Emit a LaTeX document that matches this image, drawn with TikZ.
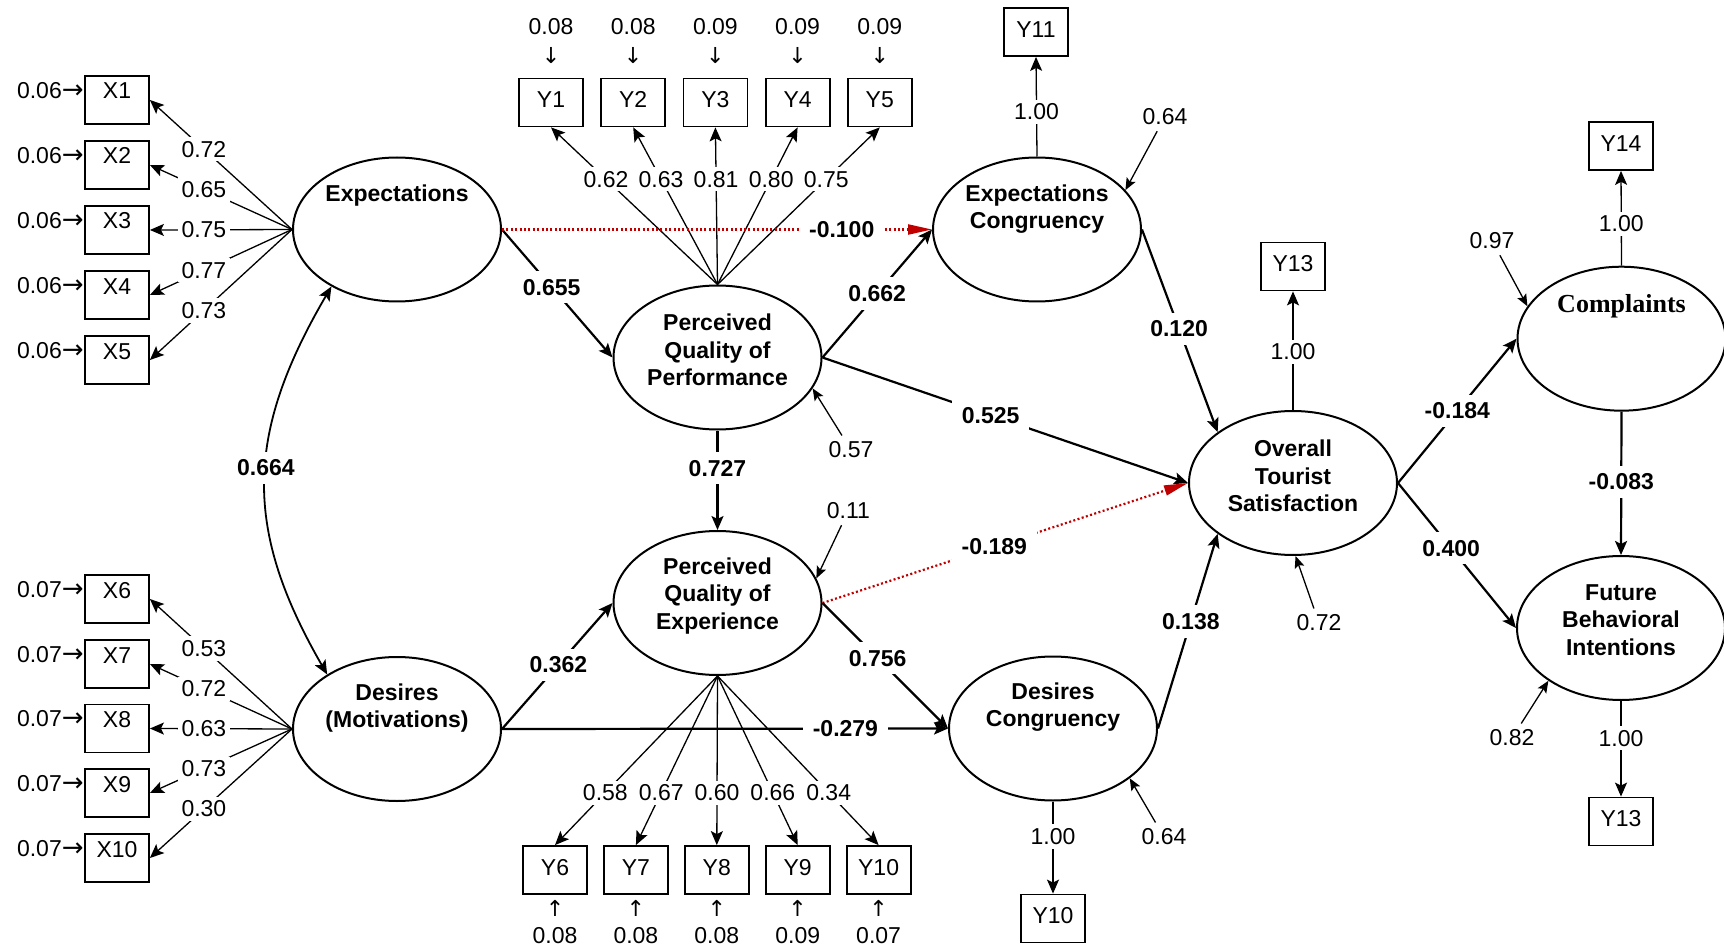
\documentclass[tikz,border=0pt]{standalone}
\usepackage{fontspec}
\setmainfont{Liberation Sans}
\newfontfamily\serifbf{Liberation Serif}
\newfontfamily\arrowfont{DejaVu Sans}
\usetikzlibrary{arrows.meta, shapes.geometric}
\definecolor{negred}{RGB}{192,0,0}
\newcommand\numfont{\fontsize{11.5}{13.75}\selectfont}
\newcommand\errright{{\arrowfont\fontsize{13}{13}\selectfont →}}
\newcommand\errdown{{\arrowfont\fontsize{11}{13}\selectfont ↓}}
\newcommand\errup{{\arrowfont\fontsize{11}{13}\selectfont ↑}}
\tikzset{
  >={Stealth[length=7pt,width=6pt,inset=1.5pt]},
  latent/.style={draw, ellipse, line width=1pt, minimum width=104pt, minimum height=72pt, inner sep=0pt},
  ltext/.style={font=\numfont\bfseries, align=center},
  manifest/.style={draw, line width=0.9pt, minimum width=32pt, minimum height=24pt, inner sep=0pt,
    font=\numfont, text height=8.5pt, text depth=3.3pt},
  xbox/.style={manifest, text depth=9.5pt},
  num/.style={font=\numfont, fill=white, inner sep=2pt},
  resid/.style={font=\numfont, inner sep=3pt},
  coef/.style={font=\numfont\bfseries, text=black, fill=white, inner xsep=5pt, inner ysep=4pt},
  load/.style={->, line width=0.65pt},
  err/.style={-{Stealth[length=6pt,width=5pt,inset=1.2pt]}, line width=0.65pt},
  effect/.style={->, line width=1.1pt},
  negeffect/.style={-{Triangle[length=12pt,width=5pt]}, negred, line width=1.1pt, dash pattern=on 1pt off 1.2pt},
}
\begin{document}
\begin{tikzpicture}[x=0.5pt, y=-0.5pt]
\useasboundingbox (0,0) rectangle (1724,952);

% latent variables
\node[latent] (expect) at (397,229.5) {};
\node[latent] (desires) at (397,729) {};
\node[latent] (pqp) at (717.5,357.5) {};
\node[latent] (pqe) at (717.5,603) {};
\node[latent] (ec) at (1037,229.5) {};
\node[latent] (dc) at (1053,728.5) {};
\node[latent] (ots) at (1293,483) {};
\node[latent] (complaints) at (1621.5,338.7) {};
\node[latent] (fbi) at (1621,628) {};

\node[ltext] (expect-t) at (397,196) {Expectations};
\node[ltext] (desires-t) at (397,708) {Desires\\(Motivations)};
\node[ltext] (pqp-t) at (717.5,350) {Perceived\\Quality of\\Performance};
\node[ltext] (pqe-t) at (717.5,596) {Perceived\\Quality of\\Experience};
\node[ltext] (ec-t) at (1037,209) {Expectations\\Congruency};
\node[ltext] (dc-t) at (1053,707) {Desires\\Congruency};
\node[ltext] (ots-t) at (1293,476) {Overall\\Tourist\\Satisfaction};
\node[font=\serifbf\bfseries\fontsize{13}{15}\selectfont] (complaints-t) at (1621.5,306) {Complaints};
\node[ltext] (fbi-t) at (1621,620) {Future\\Behavioral\\Intentions};

% indicators X1-X10
\foreach \i/\y in {1/100, 2/165, 3/230, 4/295, 5/360}{
  \node[xbox] (x\i) at (117,\y) {X\i};
  \node[font=\numfont, inner sep=0pt, anchor=east] (ex\i) at (84,{\y-9.5}) {0.06\errright};
}
\foreach \i/\y in {6/599, 7/664, 8/728.5, 9/793, 10/858}{
  \node[xbox] (x\i) at (117,\y) {X\i};
  \node[font=\numfont, inner sep=0pt, anchor=east] (ex\i) at (84,{\y-9.5}) {0.07\errright};
}
\foreach \i/\v in {1/0.72, 2/0.65, 3/0.75, 4/0.77, 5/0.73}
  \draw[load] (expect.west) -- node[num, pos=0.62]{\v} (x\i.east);
\foreach \i/\v in {6/0.53, 7/0.72, 8/0.63, 9/0.73, 10/0.30}
  \draw[load] (desires.west) -- node[num, pos=0.62]{\v} (x\i.east);

% indicators Y1-Y10
\foreach \i/\x/\e in {1/551/0.08, 2/633.2/0.08, 3/715.4/0.09, 4/797.6/0.09, 5/879.8/0.09}{
  \node[manifest] (y\i) at (\x,102.5) {Y\i};
  \node[font=\numfont, inner sep=0pt, align=center] (ey\i) at (\x,41) {\e\\[1pt]\errdown};
}
\foreach \i/\x/\e in {6/555/0.08, 7/635.9/0.08, 8/716.8/0.08, 9/797.7/0.09, 10/878.6/0.07}{
  \node[manifest] (y\i) at (\x,870) {Y\i};
  \node[font=\numfont, inner sep=0pt, align=center] (ey\i) at (\x,922) {\errup\\[0pt]\e};
}
\foreach \i/\v in {1/0.62, 2/0.63, 3/0.81, 4/0.80, 5/0.75}
  \draw[load] (pqp.north) -- node[num, pos=0.67]{\v} (y\i.south);
\foreach \i/\v in {6/0.58, 7/0.67, 8/0.60, 9/0.66, 10/0.34}
  \draw[load] (pqe.south) -- node[num, pos=0.69]{\v} (y\i.north);

% single indicators
\node[manifest] (y11) at (1036,32) {Y11};
\node[manifest] (y13) at (1293,266.5) {Y13};
\node[manifest] (y14) at (1621,146) {Y14};
\node[manifest] (y13fbi) at (1621,821.5) {Y13};
\node[manifest] (y10dc) at (1053,918.5) {Y10};
\draw[load] (ec.north) -- node[num, pos=0.45]{1.00} (y11.south);
\draw[load] (ots.north) -- node[num, pos=0.49]{1.00} (y13.south);
\draw[load] (complaints.north) -- node[num, pos=0.44]{1.00} (y14.south);
\draw[load] (fbi.south) -- node[num, pos=0.39]{1.00} (y13fbi.north);
\draw[load] (dc.south) -- node[num, pos=0.38]{1.00} (y10dc.north);

% structural paths
\draw[<->, line width=0.9pt] (expect.221) .. controls (244,436) and (244,530) .. node[coef, pos=0.46]{0.664} (desires.142);
\draw[effect] (expect.east) -- node[coef, pos=0.45]{0.655} (pqp.west);
\draw[negeffect] (expect.east) -- node[coef, pos=0.79]{-0.100} (ec.west);
\draw[effect] (pqp.east) -- node[coef, pos=0.5]{0.662} (ec.west);
\draw[effect] (pqp.east) -- node[coef, pos=0.46]{0.525} (ots.west);
\draw[effect] (pqp.south) -- node[coef, pos=0.38]{0.727} (pqe.north);
\draw[negeffect] (pqe.east) -- node[coef, pos=0.47]{-0.189} (ots.west);
\draw[effect] (pqe.east) -- node[coef, pos=0.44]{0.756} (dc.west);
\draw[effect] (desires.east) -- node[coef, pos=0.51]{0.362} (pqe.west);
\draw[effect] (desires.east) -- node[coef, pos=0.77]{-0.279} (dc.west);
\draw[effect] (ec.east) -- node[coef, pos=0.49]{0.120} (ots.146);
\draw[effect] (dc.east) -- node[coef, pos=0.55]{0.138} (ots.214);
\draw[effect] (ots.east) -- node[coef, pos=0.5]{-0.184} (complaints.west);
\draw[effect] (ots.east) -- node[coef, pos=0.45]{0.400} (fbi.west);
\draw[effect] (complaints.south) -- node[coef, pos=0.49]{-0.083} (fbi.north);

% residuals
\node[resid] (e-pqp) at (851,450) {0.57};
\node[resid] (e-pqe) at (848.4,510.7) {0.11};
\node[resid] (e-ec) at (1165,116.7) {0.64};
\node[resid] (e-ots) at (1319,623) {0.72};
\node[resid] (e-dc) at (1164,837) {0.64};
\node[resid] (e-compl) at (1492,240.7) {0.97};
\node[resid] (e-fbi) at (1512,738) {0.82};
\draw[err] (e-pqp) -- (pqp.-18);
\draw[err] (e-pqe) -- (pqe.14);
\draw[err] (e-ec) -- (ec.24);
\draw[err] (e-ots) -- (ots.-88);
\draw[err] (e-dc) -- (dc.-33);
\draw[err] (e-compl) -- (complaints.161);
\draw[err] (e-fbi) -- (fbi.-144);
\end{tikzpicture}
\end{document}
